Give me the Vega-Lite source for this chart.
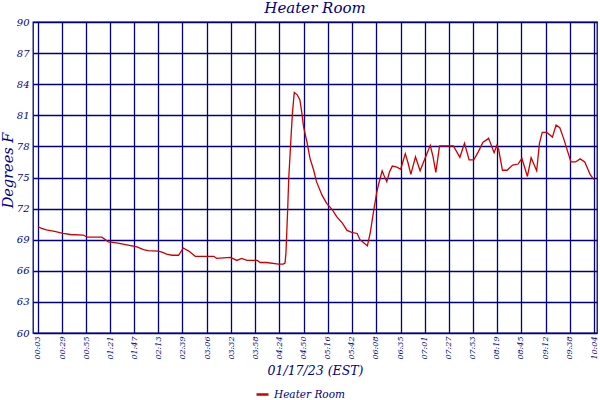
{
  "$schema": "https://vega.github.io/schema/vega-lite/v6.json",
  "width": 564,
  "height": 311,
  "autosize": {"type": "none"},
  "padding": {"left": 33, "top": 22, "right": 3, "bottom": 67},
  "background": "white",
  "title": {
    "text": "Heater Room",
    "font": "DejaVu Serif",
    "fontStyle": "italic",
    "fontWeight": "normal",
    "fontSize": 15,
    "color": "#000080",
    "anchor": "middle",
    "frame": "group",
    "baseline": "alphabetic",
    "offset": -11
  },
  "data": {
    "values": [
      {"time": "2023-01-17T00:03", "temp": 70.25},
      {"time": "2023-01-17T00:07", "temp": 70.1},
      {"time": "2023-01-17T00:12", "temp": 69.95},
      {"time": "2023-01-17T00:21", "temp": 69.8},
      {"time": "2023-01-17T00:30", "temp": 69.6},
      {"time": "2023-01-17T00:38", "temp": 69.5},
      {"time": "2023-01-17T00:52", "temp": 69.45},
      {"time": "2023-01-17T00:56", "temp": 69.25},
      {"time": "2023-01-17T01:12", "temp": 69.25},
      {"time": "2023-01-17T01:19", "temp": 68.8},
      {"time": "2023-01-17T01:28", "temp": 68.7},
      {"time": "2023-01-17T01:39", "temp": 68.5},
      {"time": "2023-01-17T01:50", "temp": 68.3},
      {"time": "2023-01-17T01:57", "temp": 68.05},
      {"time": "2023-01-17T02:02", "temp": 67.95},
      {"time": "2023-01-17T02:13", "temp": 67.9},
      {"time": "2023-01-17T02:17", "temp": 67.8},
      {"time": "2023-01-17T02:22", "temp": 67.6},
      {"time": "2023-01-17T02:28", "temp": 67.5},
      {"time": "2023-01-17T02:35", "temp": 67.5},
      {"time": "2023-01-17T02:40", "temp": 68.2},
      {"time": "2023-01-17T02:46", "temp": 67.9},
      {"time": "2023-01-17T02:53", "temp": 67.4},
      {"time": "2023-01-17T03:13", "temp": 67.4},
      {"time": "2023-01-17T03:16", "temp": 67.2},
      {"time": "2023-01-17T03:31", "temp": 67.3},
      {"time": "2023-01-17T03:38", "temp": 67.0},
      {"time": "2023-01-17T03:43", "temp": 67.2},
      {"time": "2023-01-17T03:49", "temp": 67.0},
      {"time": "2023-01-17T04:00", "temp": 67.0},
      {"time": "2023-01-17T04:03", "temp": 66.8},
      {"time": "2023-01-17T04:10", "temp": 66.8},
      {"time": "2023-01-17T04:23", "temp": 66.65},
      {"time": "2023-01-17T04:28", "temp": 66.65},
      {"time": "2023-01-17T04:30", "temp": 66.75},
      {"time": "2023-01-17T04:31", "temp": 67.7},
      {"time": "2023-01-17T04:33", "temp": 72.2},
      {"time": "2023-01-17T04:34", "temp": 74.9},
      {"time": "2023-01-17T04:36", "temp": 78.1},
      {"time": "2023-01-17T04:37", "temp": 79.7},
      {"time": "2023-01-17T04:38", "temp": 81.2},
      {"time": "2023-01-17T04:40", "temp": 83.2},
      {"time": "2023-01-17T04:43", "temp": 83.0},
      {"time": "2023-01-17T04:46", "temp": 82.5},
      {"time": "2023-01-17T04:48", "temp": 81.35},
      {"time": "2023-01-17T04:50", "temp": 79.9},
      {"time": "2023-01-17T04:54", "temp": 78.3},
      {"time": "2023-01-17T04:57", "temp": 76.85},
      {"time": "2023-01-17T05:01", "temp": 75.7},
      {"time": "2023-01-17T05:04", "temp": 74.6},
      {"time": "2023-01-17T05:10", "temp": 73.3},
      {"time": "2023-01-17T05:15", "temp": 72.5},
      {"time": "2023-01-17T05:21", "temp": 71.9},
      {"time": "2023-01-17T05:26", "temp": 71.2},
      {"time": "2023-01-17T05:32", "temp": 70.6},
      {"time": "2023-01-17T05:37", "temp": 69.9},
      {"time": "2023-01-17T05:42", "temp": 69.7},
      {"time": "2023-01-17T05:48", "temp": 69.6},
      {"time": "2023-01-17T05:51", "temp": 69.0},
      {"time": "2023-01-17T05:55", "temp": 68.7},
      {"time": "2023-01-17T05:59", "temp": 68.4},
      {"time": "2023-01-17T06:02", "temp": 69.6},
      {"time": "2023-01-17T06:06", "temp": 71.9},
      {"time": "2023-01-17T06:09", "temp": 73.5},
      {"time": "2023-01-17T06:11", "temp": 74.3},
      {"time": "2023-01-17T06:15", "temp": 75.65},
      {"time": "2023-01-17T06:17", "temp": 75.2},
      {"time": "2023-01-17T06:20", "temp": 74.6},
      {"time": "2023-01-17T06:23", "temp": 75.55},
      {"time": "2023-01-17T06:26", "temp": 76.1},
      {"time": "2023-01-17T06:31", "temp": 76.0},
      {"time": "2023-01-17T06:35", "temp": 75.8},
      {"time": "2023-01-17T06:40", "temp": 77.3},
      {"time": "2023-01-17T06:43", "temp": 76.4},
      {"time": "2023-01-17T06:46", "temp": 75.3},
      {"time": "2023-01-17T06:51", "temp": 77.0},
      {"time": "2023-01-17T06:56", "temp": 75.65},
      {"time": "2023-01-17T07:02", "temp": 77.0},
      {"time": "2023-01-17T07:07", "temp": 78.1},
      {"time": "2023-01-17T07:10", "temp": 77.0},
      {"time": "2023-01-17T07:13", "temp": 75.5},
      {"time": "2023-01-17T07:17", "temp": 78.05},
      {"time": "2023-01-17T07:32", "temp": 78.05},
      {"time": "2023-01-17T07:39", "temp": 76.95},
      {"time": "2023-01-17T07:44", "temp": 78.3},
      {"time": "2023-01-17T07:49", "temp": 76.7},
      {"time": "2023-01-17T07:54", "temp": 76.7},
      {"time": "2023-01-17T07:59", "temp": 77.5},
      {"time": "2023-01-17T08:04", "temp": 78.4},
      {"time": "2023-01-17T08:09", "temp": 78.7},
      {"time": "2023-01-17T08:10", "temp": 78.8},
      {"time": "2023-01-17T08:16", "temp": 77.4},
      {"time": "2023-01-17T08:19", "temp": 78.1},
      {"time": "2023-01-17T08:21", "temp": 77.65},
      {"time": "2023-01-17T08:25", "temp": 75.7},
      {"time": "2023-01-17T08:30", "temp": 75.7},
      {"time": "2023-01-17T08:36", "temp": 76.2},
      {"time": "2023-01-17T08:42", "temp": 76.3},
      {"time": "2023-01-17T08:46", "temp": 76.85},
      {"time": "2023-01-17T08:52", "temp": 75.1},
      {"time": "2023-01-17T08:56", "temp": 76.9},
      {"time": "2023-01-17T09:02", "temp": 75.65},
      {"time": "2023-01-17T09:05", "temp": 78.3},
      {"time": "2023-01-17T09:08", "temp": 79.35},
      {"time": "2023-01-17T09:13", "temp": 79.35},
      {"time": "2023-01-17T09:19", "temp": 78.9},
      {"time": "2023-01-17T09:23", "temp": 80.05},
      {"time": "2023-01-17T09:27", "temp": 79.8},
      {"time": "2023-01-17T09:31", "temp": 78.8},
      {"time": "2023-01-17T09:39", "temp": 76.5},
      {"time": "2023-01-17T09:44", "temp": 76.5},
      {"time": "2023-01-17T09:49", "temp": 76.8},
      {"time": "2023-01-17T09:54", "temp": 76.5},
      {"time": "2023-01-17T10:00", "temp": 75.25},
      {"time": "2023-01-17T10:04", "temp": 74.8}
    ]
  },
  "mark": {"type": "line", "strokeWidth": 1.3},
  "encoding": {
    "x": {
      "field": "time",
      "type": "temporal",
      "scale": {
        "domain": [
          {"year": 2023, "month": 1, "date": 16, "hours": 23, "minutes": 57, "seconds": 36},
          {"year": 2023, "month": 1, "date": 17, "hours": 10, "minutes": 7, "seconds": 12}
        ]
      },
      "axis": {
        "values": [
          {"year": 2023, "month": 1, "date": 17, "hours": 0, "minutes": 3},
          {"year": 2023, "month": 1, "date": 17, "hours": 0, "minutes": 29},
          {"year": 2023, "month": 1, "date": 17, "hours": 0, "minutes": 55},
          {"year": 2023, "month": 1, "date": 17, "hours": 1, "minutes": 21},
          {"year": 2023, "month": 1, "date": 17, "hours": 1, "minutes": 47},
          {"year": 2023, "month": 1, "date": 17, "hours": 2, "minutes": 13},
          {"year": 2023, "month": 1, "date": 17, "hours": 2, "minutes": 39},
          {"year": 2023, "month": 1, "date": 17, "hours": 3, "minutes": 6},
          {"year": 2023, "month": 1, "date": 17, "hours": 3, "minutes": 32},
          {"year": 2023, "month": 1, "date": 17, "hours": 3, "minutes": 58},
          {"year": 2023, "month": 1, "date": 17, "hours": 4, "minutes": 24},
          {"year": 2023, "month": 1, "date": 17, "hours": 4, "minutes": 50},
          {"year": 2023, "month": 1, "date": 17, "hours": 5, "minutes": 16},
          {"year": 2023, "month": 1, "date": 17, "hours": 5, "minutes": 42},
          {"year": 2023, "month": 1, "date": 17, "hours": 6, "minutes": 8},
          {"year": 2023, "month": 1, "date": 17, "hours": 6, "minutes": 35},
          {"year": 2023, "month": 1, "date": 17, "hours": 7, "minutes": 1},
          {"year": 2023, "month": 1, "date": 17, "hours": 7, "minutes": 27},
          {"year": 2023, "month": 1, "date": 17, "hours": 7, "minutes": 53},
          {"year": 2023, "month": 1, "date": 17, "hours": 8, "minutes": 19},
          {"year": 2023, "month": 1, "date": 17, "hours": 8, "minutes": 45},
          {"year": 2023, "month": 1, "date": 17, "hours": 9, "minutes": 12},
          {"year": 2023, "month": 1, "date": 17, "hours": 9, "minutes": 38},
          {"year": 2023, "month": 1, "date": 17, "hours": 10, "minutes": 4}
        ],
        "format": "%H:%M",
        "labelAngle": 270,
        "labelFlush": false,
        "labelOverlap": false,
        "labelFontSize": 8,
        "labelPadding": 3,
        "title": "01/17/23 (EST)",
        "titleFontSize": 12.5,
        "titlePadding": 5
      }
    },
    "y": {
      "field": "temp",
      "type": "quantitative",
      "scale": {"domain": [60, 90], "nice": false, "zero": false},
      "axis": {
        "values": [60, 63, 66, 69, 72, 75, 78, 81, 84, 87, 90],
        "labelFontSize": 10,
        "labelPadding": 4,
        "title": "Degrees F",
        "titleFontSize": 14.5,
        "titlePadding": 1,
        "titleY": 148
      }
    },
    "color": {
      "datum": "Heater Room",
      "type": "nominal",
      "scale": {"domain": ["Heater Room"], "range": ["#cc0000"]},
      "legend": {
        "orient": "none",
        "legendX": 222,
        "legendY": 365,
        "direction": "horizontal",
        "title": null,
        "padding": 0,
        "symbolType": "stroke",
        "symbolSize": 144,
        "symbolStrokeWidth": 2.5,
        "labelFont": "DejaVu Serif",
        "labelFontStyle": "italic",
        "labelFontSize": 10.5,
        "labelColor": "#000080"
      }
    }
  },
  "config": {
    "view": {"stroke": "#000080", "strokeWidth": 1.3},
    "axis": {
      "grid": true,
      "gridColor": "#000080",
      "gridWidth": 1.3,
      "gridOpacity": 1,
      "ticks": false,
      "domain": false,
      "labelFont": "DejaVu Serif",
      "labelFontStyle": "italic",
      "labelColor": "#000080",
      "titleFont": "DejaVu Serif",
      "titleFontStyle": "italic",
      "titleFontWeight": "normal",
      "titleColor": "#000080"
    }
  }
}
